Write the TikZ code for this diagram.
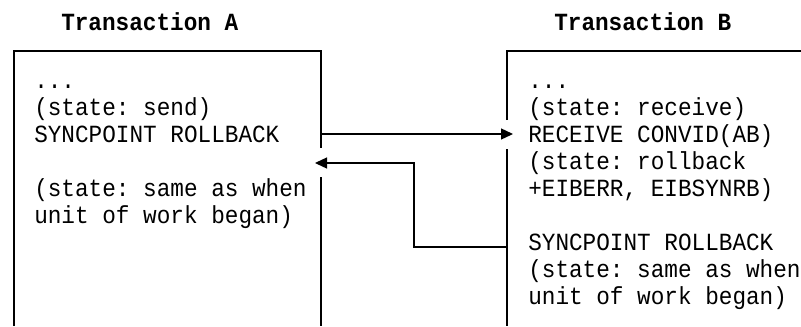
\documentclass[tikz,border=0pt]{standalone}
\usepackage{fontspec}
\setmonofont[FakeStretch=0.92]{Liberation Mono}
\usetikzlibrary{arrows.meta}
\begin{document}
\begin{tikzpicture}[x=0.75pt,y=-0.75pt,
  txt/.style={anchor=base west, inner sep=0pt, font=\ttfamily\fontsize{18.5}{20}\selectfont},
  ttl/.style={anchor=base west, inner sep=0pt, font=\ttfamily\bfseries\fontsize{18.5}{20}\selectfont},
  boxline/.style={line width=1.5pt},
  conn/.style={line width=1pt, -{Triangle[length=9pt,width=8.25pt]}}]
\useasboundingbox (0,0) rectangle (801,326);
% titles
\node[ttl] (tA) at (61,30) {Transaction A};
\node[ttl] (tB) at (554,30) {Transaction B};
% box corners and gaps
\coordinate (Abl) at (14,326);
\coordinate (Atl) at (14,50.5);
\coordinate (Atr) at (321,50.5);
\coordinate (Ag1) at (321,148);
\coordinate (Ag2) at (321,177);
\coordinate (Abr) at (321,326);
\coordinate (Bbl) at (507,326);
\coordinate (Btl) at (507,50.5);
\coordinate (Btr) at (801,50.5);
\coordinate (Bg1) at (507,120);
\coordinate (Bg2) at (507,149);
\draw[boxline] (Abl) -- (Atl) -- (Atr) -- (Ag1);
\draw[boxline] (Ag2) -- (Abr);
\draw[boxline] (Bg1) -- (Btl) -- (Btr);
\draw[boxline] (Bg2) -- (Bbl);
% text A
\node[txt] (a1) at (34,88) {...};
\node[txt] (a2) at (34,115) {(state: send)};
\node[txt] (a3) at (34,142) {SYNCPOINT ROLLBACK};
\node[txt] (a4) at (34,196) {(state: same as when};
\node[txt] (a5) at (34,223) {unit of work began)};
% text B
\node[txt] (b1) at (528,88) {...};
\node[txt] (b2) at (528,115) {(state: receive)};
\node[txt] (b3) at (528,142) {RECEIVE CONVID(AB)};
\node[txt] (b4) at (528,169) {(state: rollback};
\node[txt] (b5) at (528,196) {+EIBERR, EIBSYNRB)};
\node[txt] (b6) at (528,250) {SYNCPOINT ROLLBACK};
\node[txt] (b7) at (528,277) {(state: same as when};
\node[txt] (b8) at (528,304) {unit of work began)};
% connectors
\coordinate (snd) at (321,134);
\coordinate (rcv) at (513,134);
\coordinate (back) at (507,247);
\coordinate (k1) at (414,247);
\coordinate (k2) at (414,163);
\coordinate (ret) at (315,163);
\draw[conn] (snd) -- (rcv);
\draw[conn] (back) -- (k1) -- (k2) -- (ret);
\end{tikzpicture}
\end{document}
